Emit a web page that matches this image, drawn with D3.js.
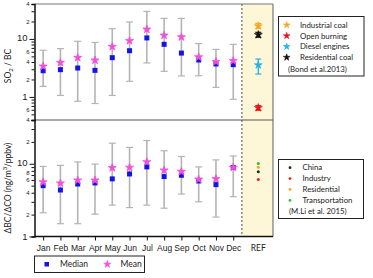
<!DOCTYPE html>
<html><head><meta charset="utf-8">
<script src="https://cdn.jsdelivr.net/npm/d3@7"></script>
<style>body{margin:0;background:#fff}svg{display:block;font-family:Lato,"Open Sans",sans-serif}</style>
</head><body><svg id="c" width="373" height="278"></svg>
<script>
const months = ["Jan","Feb","Mar","Apr","May","Jun","Jul","Aug","Sep","Oct","Nov","Dec"];
const refLabel = "REF";
// SO2/BC (top panel)
const so2Median = [2.83,2.95,3.15,2.87,4.75,6.26,10.4,8.07,5.7,4.33,3.7,3.6];
const so2Mean   = [3.37,3.9,4.75,4.28,7.35,9.3,14.6,11.5,10.8,4.87,4.05,4.2];
const so2Lo     = [1.52,1.06,0.84,0.77,1.06,1.86,3.85,2.76,2.3,2.32,1.46,0.91];
const so2Hi     = [6.37,6.8,9.1,8.7,15.0,19.6,29.9,22.6,22.6,8.3,6.6,8.07];
// dBC/dCO (bottom panel)
const bcMedian = [5.0,4.36,5.27,5.45,6.2,7.25,9.06,6.67,6.95,5.8,5.17,8.9];
const bcMean   = [5.6,5.4,5.93,5.93,8.8,8.9,10.6,8.15,7.8,6.1,6.2,8.9];
const bcLo     = [2.12,1.5,1.5,2.03,2.7,2.5,2.7,2.45,3.84,3.0,1.85,3.53];
const bcHi     = [9.2,9.5,10.6,9.9,19.2,16.8,20.9,15.1,12.6,9.06,11.3,12.8];
// references
const bondNames  = ["Industrial coal","Open burning","Diesel engines","Residential coal"];
const bondColors = ["#f5a623","#e8101a","#22b4e8","#111111"];
const bondVal    = [16.7,0.65,3.55,11.8];
const bondLo     = [15.3,0.59,2.48,10.7];
const bondHi     = [18.5,0.71,4.5,13.0];
const liNames  = ["China","Industry","Residential","Transportation"];
const liColors = ["#222222","#e8201a","#f5a623","#2fc22f"];
const liVal    = [7.8,6.1,8.97,10.1];
const topTicks = [40,20,10,6,4,2,1,0.6,0.4];
const botTicks = [20,10,8,6,4,2,1];

const svg = d3.select("#c");
const L = 34.5, R = 273, T = 4, M = 120, B = 236.5;
const x = d3.scaleLinear().domain([0.5,14.3]).range([L,R]);
const yT = d3.scaleLog().domain([0.4,40]).range([M,T]);
const yB = d3.scaleLog().domain([1,40]).range([B,M]);
const refX = 13.45, divX = 12.5;

// yellow ref area
svg.append("rect").attr("x",x(divX)).attr("y",T).attr("width",R-x(divX)).attr("height",B-T).attr("fill","#fdf7d8");
svg.append("line").attr("x1",x(divX)).attr("x2",x(divX)).attr("y1",T).attr("y2",B)
  .attr("stroke","#222").attr("stroke-width",0.8).attr("stroke-dasharray","2,2");

// frame
svg.append("line").attr("x1",L).attr("x2",R).attr("y1",T).attr("y2",T).attr("stroke","#777").attr("stroke-width",1.2);
svg.append("line").attr("x1",R).attr("x2",R).attr("y1",T).attr("y2",B).attr("stroke","#777").attr("stroke-width",1.2);
svg.append("line").attr("x1",L).attr("x2",R).attr("y1",M).attr("y2",M).attr("stroke","#555").attr("stroke-width",1.2);

function minorTicks(dom){
  const out=[];
  for(let d=-1; d<=2; d++) for(let k=1;k<=9;k++){const v=k*Math.pow(10,d); if(v>=dom[0]-1e-9&&v<=dom[1]+1e-9) out.push(v);}
  return out;
}
function yAxis(scale, labels){
  const fmt = v => (v===1||v===10) ? String(v) : String(v).replace("0.","")[0];
  const ax = d3.axisLeft(scale).tickValues(minorTicks(scale.domain())).tickSize(3).tickFormat(v => labels.some(l=>Math.abs(l-v)<1e-9)?fmt(v):"");
  const g = svg.append("g").attr("transform",`translate(${L},0)`).call(ax);
  g.select(".domain").attr("stroke","#111").attr("stroke-width",1.5);
  g.selectAll(".tick line").attr("stroke","#111").attr("x2",v=>(v===1||v===10)?-5:-3);
  g.selectAll(".tick text").attr("font-size",v=>(v===1||v===10)?9.5:6)
    .attr("fill","#222").attr("x",v=>(v===1||v===10)?-7:-5)
    .attr("dy",v=>v===10?"0.2em":(v===8?"0.55em":"0.32em"));
}
yAxis(yT, topTicks);
yAxis(yB, botTicks);

// x axis
const xa = svg.append("g").attr("transform",`translate(0,${B})`)
  .call(d3.axisBottom(x).tickValues(d3.range(1,13)).tickSize(4).tickFormat(d=>months[d-1]));
xa.select(".domain").attr("d",`M${L},0H${R}`).attr("stroke","#111").attr("stroke-width",1.5);
xa.selectAll(".tick line").attr("stroke","#111");
xa.selectAll(".tick text").attr("font-size",8.5).attr("fill","#222").attr("dy","0.9em");
svg.append("text").attr("x",x(refX)).attr("y",B+14.5).attr("text-anchor","middle").attr("font-size",8.5).attr("fill","#222").text(refLabel);

// error bars + markers
const star = d3.symbol().type(d3.symbolStar).size(20);
function panel(y, med, mean, lo, hi){
  const g = svg.append("g");
  months.forEach((m,i)=>{
    const cx = x(i+1);
    g.append("line").attr("x1",cx).attr("x2",cx).attr("y1",y(lo[i])).attr("y2",y(hi[i])).attr("stroke","#b4b4b4").attr("stroke-width",1.6);
    [lo[i],hi[i]].forEach(v=>g.append("line").attr("x1",cx-3.5).attr("x2",cx+3.5).attr("y1",y(v)).attr("y2",y(v)).attr("stroke","#b4b4b4").attr("stroke-width",1.2));
  });
  months.forEach((m,i)=>{
    g.append("rect").attr("x",x(i+1)-2.5).attr("y",y(med[i])-2.5).attr("width",5).attr("height",5).attr("fill","#1414e6");
  });
  months.forEach((m,i)=>{
    g.append("path").attr("d",star()).attr("transform",`translate(${x(i+1)},${y(mean[i])})`).attr("fill","#f24fdc").attr("stroke","#f24fdc").attr("stroke-width",0.8);
  });
}
panel(yT, so2Median, so2Mean, so2Lo, so2Hi);
panel(yB, bcMedian, bcMean, bcLo, bcHi);

// Bond refs
bondNames.forEach((n,i)=>{
  const cx = x(refX);
  svg.append("line").attr("x1",cx).attr("x2",cx).attr("y1",yT(bondLo[i])).attr("y2",yT(bondHi[i])).attr("stroke",bondColors[i]).attr("stroke-width",1.3);
  [bondLo[i],bondHi[i]].forEach(v=>svg.append("line").attr("x1",cx-3).attr("x2",cx+3).attr("y1",yT(v)).attr("y2",yT(v)).attr("stroke",bondColors[i]).attr("stroke-width",1.2));
  svg.append("path").attr("d",star()).attr("transform",`translate(${cx},${yT(bondVal[i])})`).attr("fill",bondColors[i]).attr("stroke",bondColors[i]).attr("stroke-width",0.6);
});
// Li refs
liNames.forEach((n,i)=>{
  svg.append("circle").attr("cx",x(refX)).attr("cy",yB(liVal[i])).attr("r",1.5).attr("fill",liColors[i]);
});

// legend 1
const l1 = svg.append("g");
l1.append("rect").attr("x",278.5).attr("y",16.5).attr("width",85.5).attr("height",59.5).attr("fill","#fff").attr("stroke","#222").attr("stroke-width",1);
bondNames.forEach((n,j)=>{
  const yy = 25 + j*10.8;
  l1.append("path").attr("d",d3.symbol().type(d3.symbolStar).size(14)()).attr("transform",`translate(286.7,${yy})`).attr("fill",bondColors[j]).attr("stroke",bondColors[j]).attr("stroke-width",0.6);
  l1.append("text").attr("x",300).attr("y",yy).attr("dy","0.35em").attr("font-size",7.8).attr("fill","#222").text(n);
});
l1.append("text").attr("x",288).attr("y",69).attr("dy","0.35em").attr("font-size",7.8).attr("fill","#222").text("(Bond et al.2013)");

// legend 2
const l2 = svg.append("g");
l2.append("rect").attr("x",278.5).attr("y",159.5).attr("width",85).attr("height",59).attr("fill","#fff").attr("stroke","#222").attr("stroke-width",1);
liNames.forEach((n,j)=>{
  const yy = 167.7 + j*10.9;
  l2.append("circle").attr("cx",290).attr("cy",yy).attr("r",1.4).attr("fill",liColors[j]);
  l2.append("text").attr("x",302.5).attr("y",yy).attr("dy","0.35em").attr("font-size",7.8).attr("fill","#222").text(n);
});
l2.append("text").attr("x",289).attr("y",211).attr("dy","0.35em").attr("font-size",7.8).attr("fill","#222").text("(M.Li et al. 2015)");

// legend 3
const l3 = svg.append("g");
l3.append("rect").attr("x",34.5).attr("y",256).attr("width",110).attr("height",16.5).attr("fill","#fff").attr("stroke","#222").attr("stroke-width",1);
l3.append("rect").attr("x",44.5).attr("y",262).attr("width",4.5).attr("height",4.5).attr("fill","#1414e6");
l3.append("text").attr("x",60).attr("y",264.3).attr("dy","0.35em").attr("font-size",8.5).attr("fill","#222").text("Median");
l3.append("path").attr("d",d3.symbol().type(d3.symbolStar).size(16)()).attr("transform","translate(107.3,264.3)").attr("fill","#f24fdc").attr("stroke","#f24fdc").attr("stroke-width",0.6);
l3.append("text").attr("x",120.5).attr("y",264.3).attr("dy","0.35em").attr("font-size",8.5).attr("fill","#222").text("Mean");

// y labels
const t1 = svg.append("text").attr("transform","translate(11,66) rotate(-90)").attr("text-anchor","middle").attr("font-size",8.5).attr("fill","#222");
t1.append("tspan").text("SO");
t1.append("tspan").attr("font-size",6).attr("dy",2).text("2");
t1.append("tspan").attr("dy",-2).text(" / BC");
const t2 = svg.append("text").attr("transform","translate(11,188) rotate(-90)").attr("text-anchor","middle").attr("font-size",8.5).attr("fill","#222");
t2.append("tspan").text("ΔBC/ΔCO (ng/m");
t2.append("tspan").attr("font-size",6).attr("dy",-4).text("3");
t2.append("tspan").attr("dy",4).text("/ppbv)");
</script></body></html>
